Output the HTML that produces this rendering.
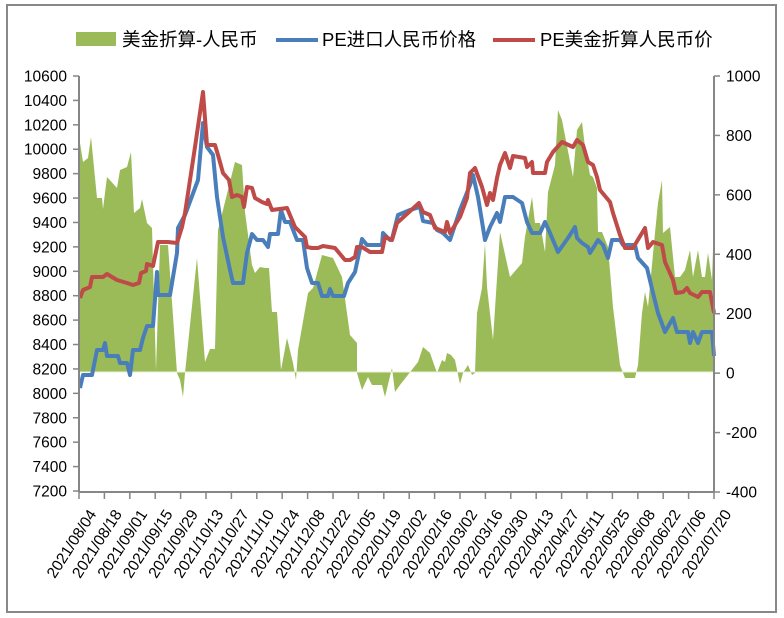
<!DOCTYPE html>
<html><head><meta charset="utf-8"><style>
body{margin:0;background:#fff;}
svg{display:block;font-family:"Liberation Sans","Noto Sans CJK SC",sans-serif;}
</style></head><body>
<svg width="784" height="618" viewBox="0 0 784 618">
<rect x="7" y="5" width="769" height="607" fill="#fff" stroke="#888" stroke-width="2"/>
<polygon fill="#9bbb59" points="79,372 79,220 80,143 83,162 88,158 91,137 97,198 102,198 103,209 107,177 117,188 120,170 127,167 131,152 134,213 140,208 142,199 147,223 152,228 156,370 160,245 168,245 177,373 180,380 183,397 185,373 197,258 205,362 210,349 215,349 218,230 235,162 242,165 245,212 252,265 255,273 260,267 265,268 269,268 272,312 277,312 281,370 287,338 293,363 296,380 298,350 308,293 313,288 322,255 333,258 342,277 350,335 357,343 357,373 362,390 368,377 372,385 382,385 385,397 392,368 395,392 400,385 418,362 423,347 430,353 437,373 442,360 445,362 447,353 451,355 455,360 460,384 463,373 468,365 472,375 475,373 477,313 482,288 485,243 487,287 493,340 500,232 510,277 522,263 525,237 532,197 535,223 540,223 545,252 548,192 555,165 558,110 562,120 573,177 577,130 582,122 585,147 590,175 593,177 597,188 598,232 602,232 608,247 613,307 620,365 625,378 635,378 638,365 642,313 645,292 648,307 655,233 658,203 662,180 663,233 670,227 675,277 680,277 685,270 690,250 693,277 698,250 702,277 705,277 708,253 712,280 713,250 714,313 714,372"/>
<line x1="79" y1="372" x2="714" y2="372" stroke="#e8f0d8" stroke-width="1"/>
<polyline fill="none" stroke="#4a7ebb" stroke-width="4" stroke-linejoin="round" points="80,388 83,375 92,375 97,350 103,350 105,343 107,356 118,356 120,363 127,363 130,375 133,350 140,350 143,338 147,326 153,326 157,272 158,295 170,295 177,253 178,228 185,215 198,180 203,123 207,147 213,155 217,197 223,237 230,270 233,283 243,283 247,253 252,234 257,240 263,240 268,247 270,234 278,234 281,210 285,222 290,222 297,240 303,240 307,268 312,283 318,283 322,296 328,296 330,289 333,296 344,296 348,283 355,272 362,239 367,245 382,245 383,233 390,240 392,239 398,215 410,210 420,207 423,221 433,223 437,230 443,233 450,240 460,210 470,185 473,175 478,197 485,240 490,227 497,213 500,222 505,197 513,197 522,203 527,222 532,233 540,233 545,222 550,233 558,252 563,245 568,238 575,227 577,238 582,243 588,247 590,253 595,245 598,240 603,245 608,258 612,240 620,240 623,245 635,245 638,258 647,268 653,293 658,313 665,332 673,318 677,332 688,332 690,343 693,332 698,343 702,332 712,332 714,356"/>
<polyline fill="none" stroke="#be4b48" stroke-width="4" stroke-linejoin="round" points="80,298 83,290 90,287 92,277 103,277 107,274 117,280 127,283 133,285 139,283 141,273 146,271 147,264 153,266 158,242 168,242 177,243 182,227 185,213 195,147 203,92 207,145 215,145 218,155 223,173 229,180 232,197 237,195 242,197 244,207 247,187 252,188 255,198 262,202 267,204 268,200 272,210 287,208 295,227 300,232 305,237 307,247 312,248 318,248 323,246 335,248 345,260 350,260 355,257 357,247 362,247 370,252 382,252 385,237 392,240 397,223 408,213 419,203 423,212 430,215 435,228 445,232 447,222 450,233 460,217 467,198 470,173 475,168 482,187 487,205 490,193 493,200 497,178 500,165 505,153 510,168 513,156 525,158 527,167 532,162 533,173 545,173 547,162 553,152 562,142 573,147 577,140 583,145 588,162 593,165 597,177 600,190 610,202 613,213 620,235 625,248 633,248 645,228 648,248 653,242 662,245 665,262 673,280 676,293 683,292 687,288 690,293 698,297 702,292 710,292 714,313"/>
<g stroke="#868686" stroke-width="2" fill="none">
<line x1="79" y1="76" x2="79" y2="492"/>
<line x1="714" y1="76" x2="714" y2="492"/>
<line x1="79" y1="492" x2="714" y2="492"/>
</g>
<g id="lt" stroke="#868686" stroke-width="1.5"></g>
<g id="lab" font-size="15.5" fill="#000"></g>
<rect x="76" y="32" width="40" height="14" fill="#9bbb59"/>
<text x="122" y="46" font-size="18.5">美金折算-人民币</text>
<line x1="276" y1="40" x2="318" y2="40" stroke="#4a7ebb" stroke-width="4"/>
<text x="322" y="46" font-size="18.5">PE进口人民币价格</text>
<line x1="493" y1="40" x2="535" y2="40" stroke="#be4b48" stroke-width="4"/>
<text x="540" y="46" font-size="18.5">PE美金折算人民币价</text>
<script>
var ns="http://www.w3.org/2000/svg",lt=document.getElementById('lt'),lab=document.getElementById('lab');
function el(t,a,p,txt){var e=document.createElementNS(ns,t);for(var k in a)e.setAttribute(k,a[k]);if(txt)e.textContent=txt;p.appendChild(e);return e;}
for(var i=0;i<=17;i++){var v=10600-i*200,y=76+i*415/17;
el('line',{x1:73,y1:y,x2:79,y2:y},lt);
el('text',{x:67,y:y+5.5,'text-anchor':'end'},lab,String(v));}
for(var i=0;i<=7;i++){var v=1000-i*200,y=76+i*416/7;
el('line',{x1:714,y1:y,x2:720,y2:y},lt);
el('text',{x:726,y:y+5.5},lab,String(v));}
var d=new Date(2021,7,4);
for(var i=0;i<=25;i++){var x=79+i*635/25;
el('line',{x1:x,y1:492,x2:x,y2:499},lt);
var dt=new Date(d.getTime()+i*14*86400000);
var s=dt.getFullYear()+'/'+String(dt.getMonth()+1).padStart(2,'0')+'/'+String(dt.getDate()).padStart(2,'0');
el('text',{x:x+18,y:514,'text-anchor':'end',transform:'rotate(-57 '+(x+18)+' 514)'},lab,s);}
</script>
</svg>
</body></html>
